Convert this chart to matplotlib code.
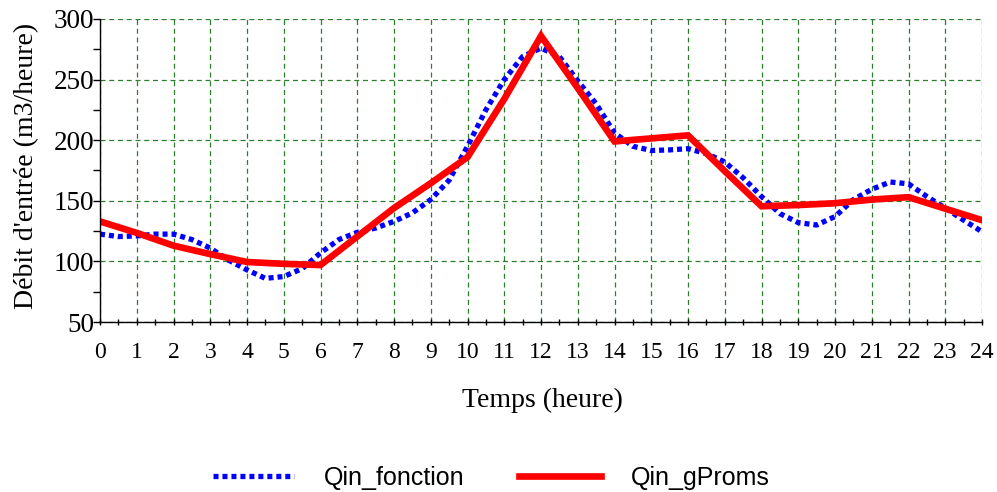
import numpy as np
import matplotlib as mpl
mpl.use('Agg')
import matplotlib.pyplot as plt
from matplotlib.ticker import MultipleLocator

# data
hours = list(range(25))
qin_gproms = [133, 123.5, 113, 106, 99.5, 98, 97, 120.5, 144, 164.5, 186, 234, 286,
              243, 199, 201.5, 204, 174.5, 145.5, 146.5, 148, 151, 153, 143.5, 134]

half_hours = [h / 2 for h in range(49)]
qin_fonction = [122.5, 120.5, 121, 122.5, 122.5, 118, 111, 101, 93, 86, 87.5, 94,
                107, 118, 124, 127.5, 133, 140, 151, 167, 195, 225, 250, 269,
                276, 269, 249, 230, 206, 195, 191.5, 192, 193, 189, 182, 169,
                153.5, 139.5, 132, 130, 137, 151, 159.5, 165.5, 164, 153.5, 144, 134,
                124.5]

serif = ['Liberation Serif', 'DejaVu Serif']
sans = ['Liberation Sans', 'DejaVu Sans']
grid_color = '#2b7f2b'


def main():
    fig = plt.figure(figsize=(9.97, 4.92), dpi=100)
    ax = fig.add_axes([100 / 997, 1 - 322 / 492, 882 / 997, 303 / 492])

    ax.plot(half_hours, qin_fonction, color='#0000ff', lw=3.8,
            linestyle=(0, (0.95, 0.75)), dash_capstyle='butt', label='Qin_fonction')
    ax.plot(hours, qin_gproms, color='#ff0000', lw=4.8, label='Qin_gProms',
            solid_joinstyle='miter')

    ax.set_xlim(0, 24)
    ax.set_ylim(50, 300)
    ax.xaxis.set_major_locator(MultipleLocator(1))
    ax.xaxis.set_minor_locator(MultipleLocator(0.5))
    ax.yaxis.set_major_locator(MultipleLocator(50))
    ax.yaxis.set_minor_locator(MultipleLocator(25))

    ax.grid(True, which='major', color=grid_color, linestyle=(0, (4, 3)), lw=0.9)
    ax.set_axisbelow(True)

    for side in ['top', 'right']:
        ax.spines[side].set_visible(False)
    for side in ['left', 'bottom']:
        ax.spines[side].set_linewidth(1.0)

    ax.tick_params(axis='x', which='both', direction='inout', length=5, width=1)
    ax.tick_params(axis='x', which='major', pad=12, labelsize=17)
    ax.tick_params(axis='y', which='both', direction='out', length=5, width=1)
    ax.tick_params(axis='y', which='major', pad=-1, labelsize=19.5)
    for lab in ax.get_xticklabels() + ax.get_yticklabels():
        lab.set_family(serif)

    fig.text(27 / 997, 1 - 166 / 492, "Débit d'entrée (m3/heure)", rotation=90,
             ha='center', va='center', fontsize=20, family=serif)
    fig.text(542 / 997, 1 - 400 / 492, 'Temps (heure)', ha='center', va='center',
             fontsize=20, family=serif)

    fig.legend(loc='center', bbox_to_anchor=(491 / 997, 1 - 478 / 492), ncol=2,
               frameon=False, handlelength=3.25, handletextpad=1.2, columnspacing=2.2,
               prop={'family': sans, 'size': 18})

    fig.savefig('out.png', dpi=100)
    plt.close()


if __name__ == '__main__':
    main()
